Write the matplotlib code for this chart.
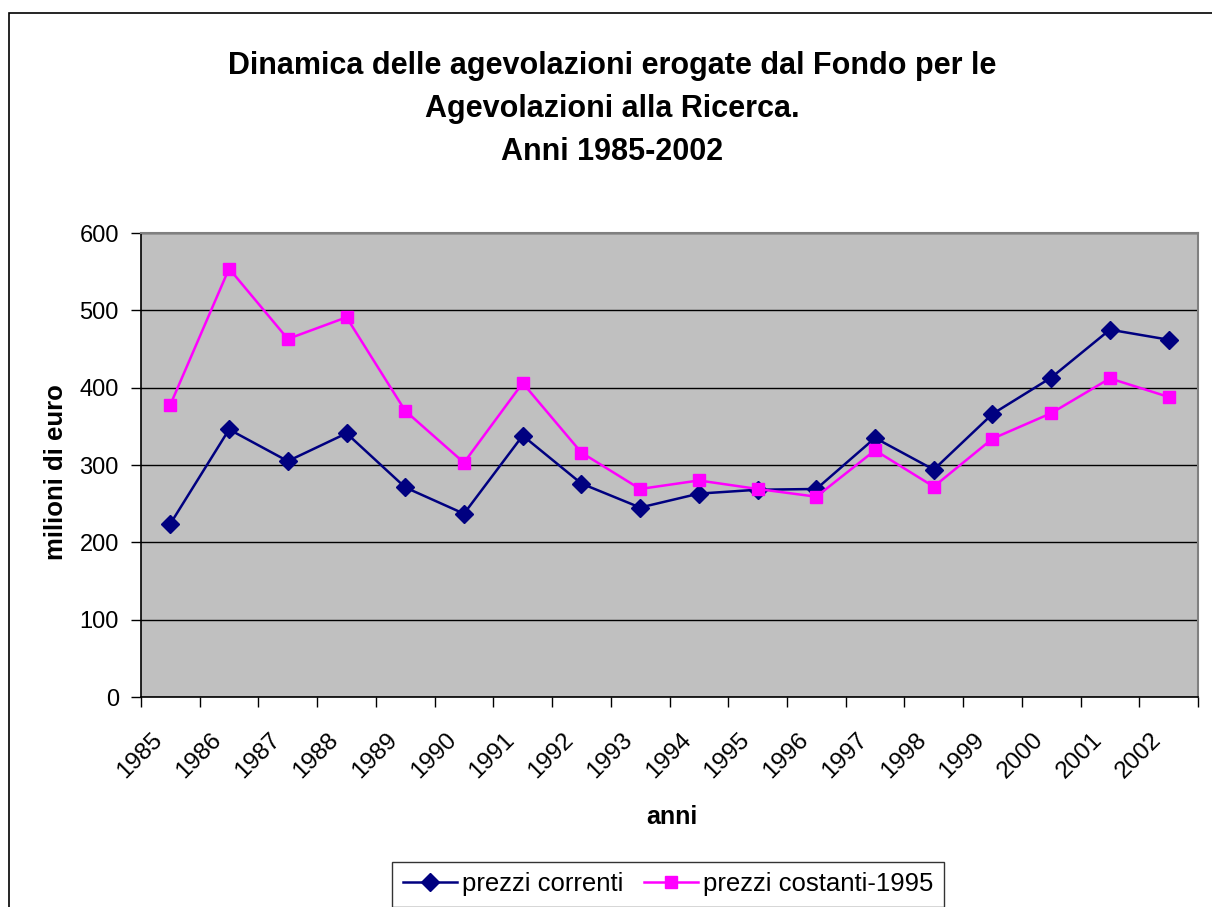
import matplotlib.pyplot as plt
import numpy as np
from matplotlib.patches import Rectangle
from matplotlib.transforms import ScaledTranslation

plt.rcParams['font.family'] = ['Liberation Sans', 'DejaVu Sans']

anni = ['1985', '1986', '1987', '1988', '1989', '1990', '1991', '1992', '1993',
        '1994', '1995', '1996', '1997', '1998', '1999', '2000', '2001', '2002']
# milioni di euro
prezzi_correnti = [224, 346, 305, 341, 271, 237, 338, 276, 245,
                   263, 268, 269, 335, 294, 366, 413, 475, 462]
prezzi_costanti = [378, 554, 463, 491, 370, 303, 406, 316, 269,
                   280, 269, 259, 319, 272, 334, 367, 412, 388]

fig = plt.figure(figsize=(12.12, 9.07), dpi=100)
ax = fig.add_axes([141/1212, 1 - 697/907, (1198 - 141)/1212, (697 - 233)/907])
ax.set_facecolor('#C0C0C0')

# cornice esterna del grafico
fig.patches.append(Rectangle((9/1212, -0.05), 1.1, 1 - 13/907 + 0.05,
                             transform=fig.transFigure, fill=False,
                             edgecolor='black', linewidth=1.2))

x = np.arange(len(anni)) + 0.5
ax.plot(x, prezzi_correnti, color='#000080', linewidth=1.8, marker='D',
        markersize=9, label='prezzi correnti', zorder=3)
ax.plot(x, prezzi_costanti, color='#FF00FF', linewidth=1.8, marker='s',
        markersize=8.5, label='prezzi costanti-1995', zorder=3)

ax.set_xlim(0, len(anni))
ax.set_ylim(0, 600)
ax.set_yticks(range(0, 601, 100))
ax.yaxis.grid(True, color='black', linewidth=1)
ax.set_axisbelow(True)

ax.set_xticks(range(len(anni) + 1))
ax.set_xticklabels([])
ax.set_xticks(x, minor=True)
ax.set_xticklabels(anni, minor=True, rotation=45, ha='right', va='top',
                   rotation_mode='anchor', fontsize=17.5)
ax.tick_params(axis='x', which='minor', length=0, pad=23)
ax.tick_params(axis='x', which='major', length=7, width=1, direction='out')
ax.tick_params(axis='y', length=7, width=1, direction='out', labelsize=17, pad=9)
sposta = ScaledTranslation(-19/100, 0, fig.dpi_scale_trans)
for lab in ax.get_xticklabels(minor=True):
    lab.set_transform(lab.get_transform() + sposta)

for s in ['top', 'right']:
    ax.spines[s].set_color('#808080')
    ax.spines[s].set_linewidth(1.5)
for s in ['left', 'bottom']:
    ax.spines[s].set_color('black')
    ax.spines[s].set_linewidth(1.2)

ax.set_ylabel('milioni di euro', fontsize=18.5, fontweight='bold')
ax.yaxis.set_label_coords(-0.069, 0.485)
ax.set_xlabel('anni', fontsize=18, fontweight='bold')
ax.xaxis.set_label_coords(0.502, -0.233)

fig.text(612/1212, 1 - 109/907,
         'Dinamica delle agevolazioni erogate dal Fondo per le\n'
         'Agevolazioni alla Ricerca.\nAnni 1985-2002',
         ha='center', va='center', fontsize=22, fontweight='bold',
         linespacing=1.56)

leg = fig.legend(loc='upper center', bbox_to_anchor=(668/1212, 1 - 862/907),
                 ncol=2, fontsize=18.5, frameon=True, fancybox=False,
                 edgecolor='black', handlelength=2.1, columnspacing=0.8,
                 handletextpad=0.2, borderpad=0.4, borderaxespad=0)
leg.get_frame().set_linewidth(1)

fig.savefig('out.png', dpi=100)
